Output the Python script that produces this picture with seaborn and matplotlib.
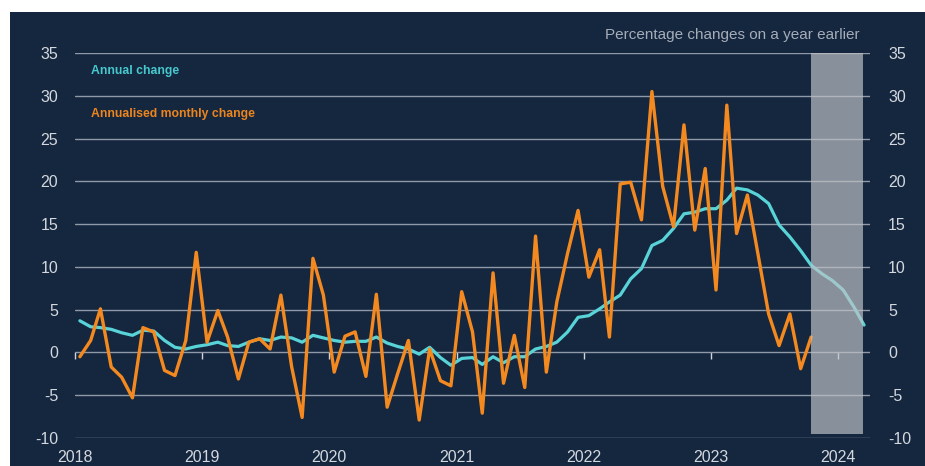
import numpy as np
import pandas as pd
import matplotlib
matplotlib.use("Agg")
import matplotlib.pyplot as plt
from matplotlib.patches import Rectangle
import seaborn as sns

# ---------------- data ----------------
annual_change = [
    3.7, 3.0, 2.9, 2.7, 2.3, 2.0, 2.6, 2.5, 1.4, 0.6, 0.4, 0.7,      # 2018
    0.9, 1.2, 0.8, 0.7, 1.2, 1.6, 1.4, 1.8, 1.7, 1.2, 2.0, 1.7,      # 2019
    1.4, 1.2, 1.3, 1.3, 1.8, 1.1, 0.7, 0.4, -0.2, 0.6, -0.6, -1.5,   # 2020
    -0.7, -0.6, -1.4, -0.5, -1.2, -0.5, -0.5, 0.4, 0.7, 1.2, 2.4, 4.1,  # 2021
    4.3, 5.1, 5.9, 6.7, 8.6, 9.8, 12.5, 13.1, 14.5, 16.2, 16.4, 16.8,  # 2022
    16.8, 17.8, 19.2, 19.0, 18.4, 17.4, 14.9, 13.5, 11.9, 10.2, 9.2, 8.4,  # 2023
    7.3, 5.3, 3.2,                                                   # 2024
]
monthly_change = [
    -0.5, 1.4, 5.1, -1.7, -2.9, -5.3, 2.9, 2.4, -2.1, -2.7, 1.4, 11.7,   # 2018
    1.2, 4.9, 1.8, -3.1, 1.2, 1.6, 0.4, 6.7, -1.7, -7.6, 11.0, 6.7,      # 2019
    -2.3, 1.9, 2.4, -2.8, 6.8, -6.4, -2.5, 1.4, -7.9, 0.4, -3.3, -3.9,   # 2020
    7.1, 2.4, -7.1, 9.3, -3.6, 2.0, -4.1, 13.6, -2.3, 5.9, 11.6, 16.6,   # 2021
    8.8, 12.0, 1.8, 19.7, 19.9, 15.5, 30.5, 19.4, 14.7, 26.6, 14.3, 21.5,  # 2022
    7.3, 28.9, 13.9, 18.4, 11.6, 4.5, 0.8, 4.5, -1.9, 1.8,               # 2023
]
start_month = "2018-01-01"
year_labels = ["2018", "2019", "2020", "2021", "2022", "2023", "2024"]
y_ticks = [-10, -5, 0, 5, 10, 15, 20, 25, 30, 35]
forecast_start = "2023-10-15"
forecast_end = "2024-03-12"
label_annual = "Annual change"
label_monthly = "Annualised monthly change"
subtitle = "Percentage changes on a year earlier"

# ---------------- frames ----------------
mid = pd.Timedelta(days=14)
dates_a = pd.date_range(start_month, periods=len(annual_change), freq="MS") + mid
dates_m = pd.date_range(start_month, periods=len(monthly_change), freq="MS") + mid
df_a = pd.DataFrame({"date": dates_a, "value": annual_change})
df_m = pd.DataFrame({"date": dates_m, "value": monthly_change})

# ---------------- style ----------------
NAVY = "#15263f"
TEAL = "#58d4d8"
ORANGE = "#f48a1f"
GRID = "#8f99a8"
TXT = "#d3d8de"
SUB = "#a5adb8"

sns.set_style("dark")
plt.rcParams["font.family"] = ["Liberation Sans", "DejaVu Sans"]

fig = plt.figure(figsize=(9.25, 4.66), dpi=100, facecolor="white")
fig.patches.append(Rectangle((10 / 925, 0), 1 - 10 / 925, (466 - 12) / 466,
                             transform=fig.transFigure, facecolor=NAVY,
                             edgecolor="none", zorder=-10))
ax = fig.add_axes([75 / 925, (466 - 438) / 466, (870 - 75) / 925, (438 - 53) / 466])
ax.set_facecolor(NAVY)

sns.lineplot(data=df_a, x="date", y="value", ax=ax, color=TEAL, lw=2.3, zorder=3)
sns.lineplot(data=df_m, x="date", y="value", ax=ax, color=ORANGE, lw=2.4, zorder=4)

ax.axvspan(pd.Timestamp(forecast_start), pd.Timestamp(forecast_end),
           ymin=(-9.5 + 10) / 45, ymax=1.0, color="#c0c3c7", alpha=0.68,
           lw=0, zorder=5)

ax.set_ylim(-10, 35)
ax.set_xlim(pd.Timestamp("2018-01-06"), pd.Timestamp("2024-04-01"))
ax.set_yticks(y_ticks)
ax.set_yticklabels([str(v) for v in y_ticks])
ax.grid(axis="y", color=GRID, lw=1.0, zorder=1)
ax.grid(axis="x", visible=False)
for s in ax.spines.values():
    s.set_visible(False)

year_ticks = [pd.Timestamp(f"{y}-01-01") for y in year_labels]
ax.spines["bottom"].set_position(("data", 0))
ax.set_xticks(year_ticks)
ax.tick_params(axis="x", direction="out", length=5, width=1, color="#d0d5db",
               labelbottom=False, bottom=True)
ax.tick_params(axis="y", length=0, pad=12, labelsize=11.5, labelcolor=TXT)
ax.set_xlabel("")
ax.set_ylabel("")

sec = ax.secondary_xaxis("bottom")
sec.set_xticks(year_ticks)
sec.set_xticklabels(year_labels)
sec.tick_params(length=0, pad=9, labelsize=11.5, labelcolor=TXT)
for s in sec.spines.values():
    s.set_visible(False)

ax2 = ax.twinx()
ax2.set_ylim(ax.get_ylim())
ax2.set_yticks(y_ticks)
ax2.set_yticklabels([str(v) for v in y_ticks])
ax2.tick_params(axis="y", length=0, pad=13, labelsize=11.5, labelcolor=TXT)
ax2.grid(False)
for s in ax2.spines.values():
    s.set_visible(False)

ax.text(0.02, 0.953, label_annual, transform=ax.transAxes, color="#46c8cc",
        fontsize=8.8, fontweight="bold", va="center", ha="left")
ax.text(0.02, 0.842, label_monthly, transform=ax.transAxes, color="#ec851d",
        fontsize=8.8, fontweight="bold", va="center", ha="left")
fig.text(860 / 925, (466 - 35) / 466, subtitle, color=SUB, fontsize=11,
         ha="right", va="center")

fig.savefig("out.png", dpi=100, facecolor="white")
